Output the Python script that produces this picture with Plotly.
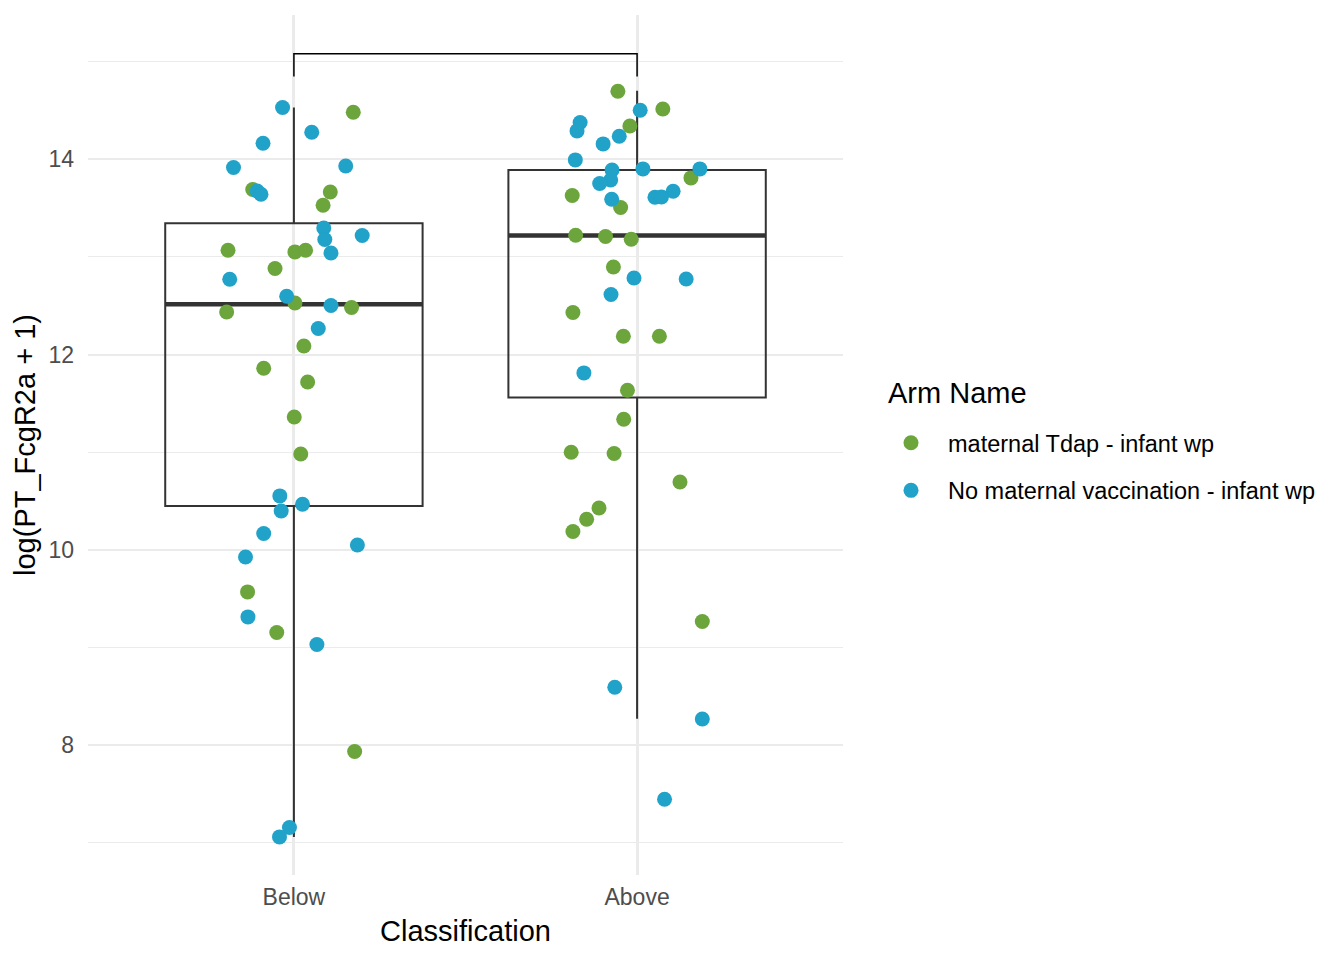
"""
Boxplot + jittered points of log(PT_FcgR2a + 1) by classification.
"""

import plotly.graph_objects as go


# categories on the x axis (positions 1 and 2)
categories = ['Below', 'Above']
cat_pos = [1, 2]

# box statistics
box_q1 = [10.45, 11.56]
box_median = [12.515, 13.22]
box_q3 = [13.345, 13.89]
box_lower = [7.06, 8.27]
box_upper = [14.53, 14.70]

# significance bracket
bracket_x = [1, 1, 2, 2]
bracket_y = [14.846, 15.079, 15.079, 14.846]

# points: jitter offset from category centre, and value
below_tdap_dx = [0.173, -0.120, 0.106, 0.085, -0.192, 0.003, 0.034, -0.055, 0.003, 0.168,
                 -0.196, 0.029, -0.088, 0.040, 0.001, 0.020, -0.135, -0.050, 0.177]
below_tdap_y = [14.481, 13.690, 13.665, 13.529, 13.068, 13.051, 13.068, 12.881, 12.528, 12.481,
                12.436, 12.088, 11.860, 11.719, 11.361, 10.982, 9.569, 9.153, 7.934]

below_none_dx = [-0.033, 0.052, -0.090, -0.176, 0.151, -0.107, -0.096, 0.087, 0.090, 0.199,
                 0.108, -0.187, -0.021, 0.108, 0.071, -0.041, 0.025, -0.037, -0.088, 0.185,
                 -0.141, -0.134, 0.067, -0.013, -0.042]
below_none_y = [14.529, 14.276, 14.164, 13.915, 13.931, 13.675, 13.642, 13.296, 13.178, 13.219,
                13.040, 12.771, 12.597, 12.502, 12.266, 10.552, 10.467, 10.398, 10.167, 10.050,
                9.927, 9.313, 9.030, 7.156, 7.060]

above_tdap_dx = [-0.056, 0.075, -0.021, 0.157, -0.189, -0.048, -0.179, -0.092, -0.017, -0.069,
                 -0.187, -0.040, 0.065, -0.028, -0.039, -0.192, -0.067, 0.125, -0.111, -0.147,
                 -0.187, 0.190]
above_tdap_y = [14.696, 14.515, 14.341, 13.809, 13.628, 13.505, 13.222, 13.208, 13.181, 12.897,
                12.430, 12.187, 12.187, 11.634, 11.337, 10.999, 10.986, 10.695, 10.429, 10.313,
                10.187, 9.266]

above_none_dx = [0.009, -0.166, -0.175, -0.052, -0.099, -0.180, -0.073, 0.017, 0.183, -0.077,
                 -0.109, 0.105, 0.052, 0.071, -0.074, -0.009, 0.143, -0.076, -0.155, -0.065,
                 0.190, 0.080]
above_none_y = [14.502, 14.376, 14.290, 14.236, 14.157, 13.993, 13.890, 13.901, 13.901, 13.788,
                13.751, 13.672, 13.611, 13.614, 13.590, 12.784, 12.774, 12.614, 11.812, 8.593,
                8.268, 7.446]

arm_names = ['maternal Tdap - infant wp', 'No maternal vaccination - infant wp']
arm_colors = ['#6BA53B', '#21A2C8']

FONT = 'Liberation Sans, Arial, Helvetica, sans-serif'
BOX_W = 0.75


fig = go.Figure()

# boxes (precomputed stats), transparent fill
for i in range(2):
    fig.add_trace(go.Box(
        x=[cat_pos[i]], q1=[box_q1[i]], median=[box_median[i]], q3=[box_q3[i]],
        lowerfence=[box_lower[i]], upperfence=[box_upper[i]],
        width=BOX_W, whiskerwidth=0, boxpoints=False,
        fillcolor='rgba(0,0,0,0)', line=dict(color='#333333', width=2),
        showlegend=False, hoverinfo='skip'))
    # thicker median bar
    fig.add_trace(go.Scatter(
        x=[cat_pos[i] - BOX_W/2, cat_pos[i] + BOX_W/2], y=[box_median[i]]*2,
        mode='lines', line=dict(color='#333333', width=4.5),
        showlegend=False, hoverinfo='skip'))

# bracket
fig.add_trace(go.Scatter(x=bracket_x, y=bracket_y, mode='lines',
                         line=dict(color='black', width=1.5),
                         showlegend=False, hoverinfo='skip'))

# jittered points
groups = [
    (0, [cat_pos[0] + d for d in below_tdap_dx], below_tdap_y),
    (1, [cat_pos[0] + d for d in below_none_dx], below_none_y),
    (0, [cat_pos[1] + d for d in above_tdap_dx], above_tdap_y),
    (1, [cat_pos[1] + d for d in above_none_dx], above_none_y),
]
shown = set()
for arm, xs, ys in groups:
    fig.add_trace(go.Scatter(
        x=xs, y=ys, mode='markers', name=arm_names[arm], legendgroup=arm_names[arm],
        marker=dict(color=arm_colors[arm], size=15, line=dict(width=0)),
        showlegend=arm not in shown))
    shown.add(arm)

fig.add_annotation(text='Arm Name', xref='paper', yref='paper', x=(886-88)/755, y=(875-393)/860,
                   xanchor='left', yanchor='middle', showarrow=False,
                   font=dict(family=FONT, size=29, color='black'))

# page has an 8px body margin, so the figure is drawn 8px smaller
fig.update_layout(
    width=1336, height=952,
    margin=dict(l=80, r=501, t=7, b=85),
    plot_bgcolor='white', paper_bgcolor='white',
    font=dict(family=FONT, size=23, color='#4D4D4D'),
    showlegend=True,
    legend=dict(x=(874-88)/755, xanchor='left', y=(875-467)/860, yanchor='middle',
                traceorder='grouped', tracegroupgap=14, itemwidth=64,
                font=dict(family=FONT, size=23.5, color='black'), bgcolor='rgba(0,0,0,0)'),
    xaxis=dict(range=[0.4, 2.6], tickvals=cat_pos, ticktext=categories,
               showgrid=True, gridcolor='#EBEBEB', gridwidth=2.5, zeroline=False,
               ticks='', ticklabelstandoff=6,
               title=dict(text='Classification', font=dict(size=29, color='black'), standoff=11)),
    yaxis=dict(range=[6.67, 15.477], tickvals=[8, 10, 12, 14],
               showgrid=True, gridcolor='#EBEBEB', gridwidth=2.2, zeroline=False,
               minor=dict(tickvals=[7, 9, 11, 13, 15], showgrid=True, gridcolor='#EBEBEB', gridwidth=1.1),
               ticks='', ticklabelstandoff=13,
               title=dict(text='log(PT_FcgR2a + 1)', font=dict(size=29, color='black'), standoff=4)),
)

fig.write_html('out.html')
